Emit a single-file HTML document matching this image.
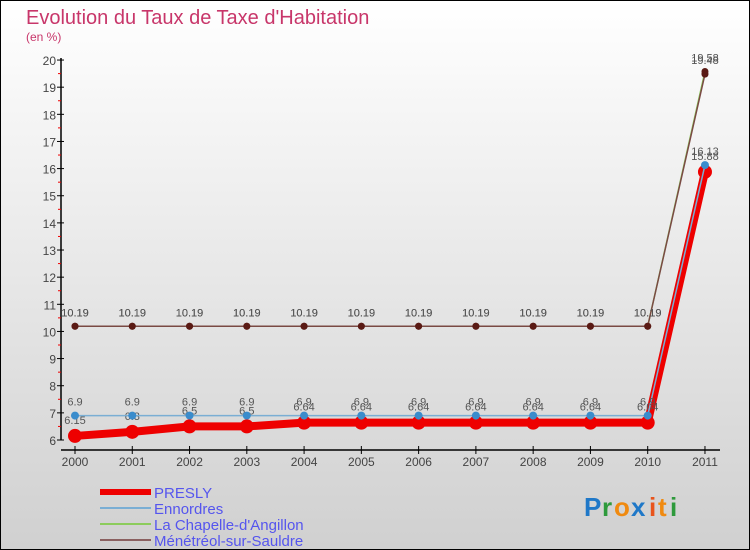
<!DOCTYPE html>
<html><head><meta charset="utf-8"><style>
html,body{margin:0;padding:0}
body{width:750px;height:550px;overflow:hidden;font-family:"Liberation Sans",sans-serif}
svg{display:block}
</style></head><body>
<svg id="chart" width="750" height="550" xmlns="http://www.w3.org/2000/svg">
<defs><linearGradient id="bg" x1="0" y1="0" x2="0" y2="1"><stop offset="0" stop-color="#ffffff"/><stop offset="1" stop-color="#d0d0d0"/></linearGradient></defs>
<rect x="0.5" y="0.5" width="749" height="549" fill="url(#bg)" stroke="#000"/>
<text x="26" y="24" font-size="20" fill="#c8366a">Evolution du Taux de Taxe d'Habitation</text>
<text x="26" y="41" font-size="12" fill="#c8366a">(en %)</text>
<g id="axes"></g><g id="series"></g><g id="legend"></g>
<g font-size="26" font-weight="bold">
<text x="584" y="516" fill="#1f78c8">P</text><text x="602" y="516" fill="#2e9a3c">r</text><text x="614" y="516" fill="#f08a10">o</text><text x="631" y="516" fill="#1f78c8">x</text><text x="649" y="516" fill="#e8541c">i</text><text x="658" y="516" fill="#f08a10">t</text><text x="670" y="516" fill="#2e9a3c">i</text>
</g>
</svg>
<script>
const years=[2000,2001,2002,2003,2004,2005,2006,2007,2008,2009,2010,2011];
const presly=[6.15,6.3,6.5,6.5,6.64,6.64,6.64,6.64,6.64,6.64,6.64,15.88];
const ennordres=[6.9,6.9,6.9,6.9,6.9,6.9,6.9,6.9,6.9,6.9,6.9,16.13];
const chapelle=[10.19,10.19,10.19,10.19,10.19,10.19,10.19,10.19,10.19,10.19,10.19,19.58];
const menetreol=[10.19,10.19,10.19,10.19,10.19,10.19,10.19,10.19,10.19,10.19,10.19,19.48];
const yTicks=[6,7,8,9,10,11,12,13,14,15,16,17,18,19,20];
const NS="http://www.w3.org/2000/svg";
const X=i=>75+i*57.27, Y=v=>440-(v-6)*27.14;
function mk(p,t,a){const e=document.createElementNS(NS,t);for(const k in a)e.setAttribute(k,a[k]);p.appendChild(e);return e;}
const ax=document.getElementById('axes');
let l=mk(ax,'line',{x1:61,y1:58,x2:61,y2:440,stroke:'#000','stroke-width':1.5});


l=mk(ax,'line',{x1:61,y1:450,x2:720,y2:450,stroke:'#000','stroke-width':1.5});


yTicks.forEach(v=>{const y=Y(v);
 mk(ax,'line',{x1:57,y1:y,x2:64,y2:y,stroke:'#000'});
 if(v<20)mk(ax,'line',{x1:58,y1:y-13.57,x2:61,y2:y-13.57,stroke:'#e00'});
 const t=mk(ax,'text',{x:56,y:y+5,'text-anchor':'end','font-size':12,fill:'#444'});t.textContent=v;
 
 });
years.forEach((yr,i)=>{const x=X(i);
 mk(ax,'line',{x1:x,y1:446,x2:x,y2:454,stroke:'#000'});
 const t=mk(ax,'text',{x:x,y:466,'text-anchor':'middle','font-size':12,fill:'#444'});t.textContent=yr;
 
 });
const sg=document.getElementById('series');
const S=[
 {n:'presly',d:presly,c:'#ee0000',w:8,m:'#ee0000',r:7,dy:-12},
 {n:'chapelle',d:chapelle,c:'#8ccc5c',w:1.5,m:'#5a1a14',r:3.5,dy:-10},
 {n:'menetreol',d:menetreol,c:'#7a4a44',w:1.5,m:'#5a1a14',r:3.5,dy:-10},
 {n:'ennordres',d:ennordres,c:'#7aaed4',w:1.5,m:'#3a8ccc',r:4,dy:-10}];
S.forEach(s=>{
 const g=mk(sg,'g',{});
 
 
 mk(g,'polyline',{points:s.d.map((v,i)=>X(i)+','+Y(v)).join(' '),fill:'none',stroke:s.c,'stroke-width':s.w});
 s.d.forEach((v,i)=>{const c=mk(g,'circle',{cx:X(i),cy:Y(v),r:s.r,fill:s.m});
  
  
  const t=mk(g,'text',{x:X(i),y:Y(v)+s.dy,'text-anchor':'middle','font-size':11,fill:'#555'});t.textContent=v;
  
  });
});
const lg=document.getElementById('legend');
const L=[['PRESLY','#ee0000',6],['Ennordres','#7aaed4',2],["La Chapelle-d'Angillon",'#8ccc5c',2],['Ménétréol-sur-Sauldre','#8a6060',2]];
L.forEach((e,i)=>{const y=492+i*16;
 const g=mk(lg,'g',{});
 
 
 mk(g,'line',{x1:100,y1:y,x2:151,y2:y,stroke:e[1],'stroke-width':e[2]});
 const t=mk(g,'text',{x:154,y:y+6,'font-size':15,fill:'#5555ee'});t.textContent=e[0];});
</script>
</body></html>
